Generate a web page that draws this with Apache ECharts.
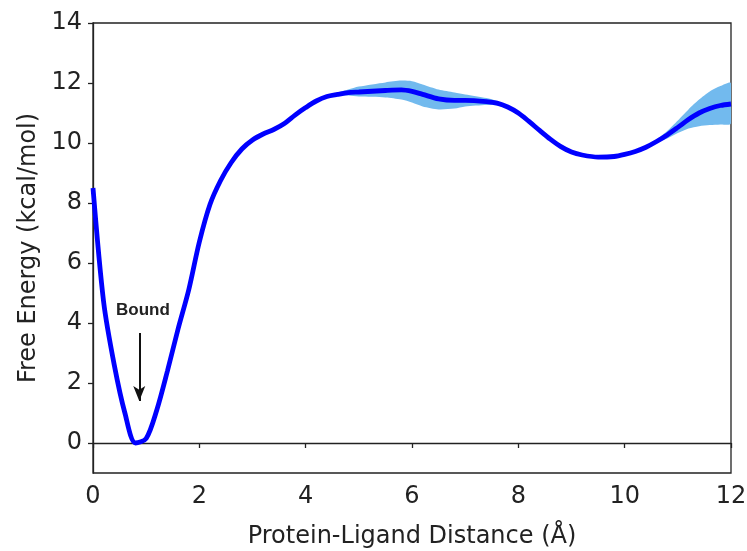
<!DOCTYPE html>
<html>
<head>
<meta charset="utf-8">
<script src="https://cdn.jsdelivr.net/npm/echarts@6/dist/echarts.min.js"></script>
<style>
html,body{margin:0;padding:0;background:#fff;}
#main{width:747px;height:551px;}
</style>
</head>
<body>
<div id="main"></div>
<script>
// distance (A) and free energy (kcal/mol)
var dist = [0,0.2,0.4,0.6,0.8,1.0,1.2,1.4,1.6,1.8,2.0,2.2,2.4,2.6,2.8,3.0,3.2,3.4,3.6,3.8,4.0,4.2,4.4,4.6,4.8,5.0,5.5,5.8,6.0,6.2,6.5,6.8,7.0,7.4,7.6,7.8,8.0,8.2,8.4,8.6,8.8,9.0,9.2,9.5,9.8,10.0,10.2,10.4,10.6,10.8,11.0,11.2,11.4,11.6,11.8,12.0];
var energy = [8.5,4.7,2.6,1.0,0.0,0.15,1.1,2.4,3.8,5.1,6.7,7.95,8.75,9.35,9.8,10.1,10.3,10.45,10.65,10.93,11.18,11.4,11.55,11.62,11.68,11.7,11.75,11.77,11.72,11.62,11.47,11.42,11.42,11.38,11.33,11.2,11.0,10.72,10.42,10.13,9.88,9.7,9.6,9.53,9.55,9.62,9.72,9.86,10.05,10.27,10.52,10.78,11.0,11.15,11.25,11.3];
// error band, lower and upper bounds
var bandLo = [8.5,4.7,2.6,1.0,0.0,0.15,1.1,2.4,3.8,5.1,6.7,7.95,8.75,9.35,9.8,10.1,10.3,10.45,10.65,10.93,11.18,11.4,11.55,11.57,11.58,11.55,11.52,11.45,11.35,11.22,11.12,11.15,11.22,11.27,11.25,11.14,10.95,10.69,10.4,10.11,9.86,9.68,9.58,9.51,9.53,9.6,9.7,9.84,10.0,10.15,10.33,10.48,10.56,10.6,10.62,10.65];
var bandHi = [8.5,4.7,2.6,1.0,0.0,0.15,1.1,2.4,3.8,5.1,6.7,7.95,8.75,9.35,9.8,10.1,10.3,10.45,10.65,10.93,11.18,11.4,11.55,11.68,11.78,11.88,12.02,12.08,12.06,11.95,11.78,11.68,11.62,11.5,11.4,11.24,11.05,10.75,10.44,10.15,9.9,9.72,9.62,9.55,9.57,9.64,9.74,9.88,10.12,10.4,10.75,11.12,11.45,11.72,11.9,12.0];
var yTicks = [0,2,4,6,8,10,12,14];

var lineData = [];
for (var i = 0; i < dist.length; i++) {
	lineData.push([dist[i], energy[i]]);
}

function renderBand(params, api) {
	var pts = [];
	for (var i = 0; i < dist.length; i++) pts.push(api.coord([dist[i], bandHi[i]]));
	for (var j = dist.length - 1; j >= 0; j--) pts.push(api.coord([dist[j], bandLo[j]]));
	return {
		type: 'polygon',
		shape: {points: pts, smooth: 0.25},
		style: {fill: '#72baee'},
		silent: true
	};
}

var font = 'DejaVu Sans';
var myChart = echarts.init(document.getElementById('main'));
var option = {
	animation: false,
	grid: {left: 93, top: 23, right: 16, bottom: 78, show: true, borderColor: '#222', borderWidth: 1.3,
		containLabel: false, outerBoundsMode: 'none'},
	xAxis: {
		type: 'value', min: 0, max: 12, interval: 2,
		name: 'Protein-Ligand Distance (\u00C5)', nameLocation: 'middle', nameGap: 52,
		nameTextStyle: {fontFamily: font, fontSize: 24, color: '#222'},
		axisLine: {lineStyle: {color: '#222', width: 1.3}},
		axisTick: {length: 5, lineStyle: {color: '#222', width: 1.3}},
		axisLabel: {fontFamily: font, fontSize: 24, color: '#222', margin: 12},
		splitLine: {show: false}
	},
	yAxis: {
		type: 'value', min: -1, max: 14,
		name: 'Free Energy (kcal/mol)', nameLocation: 'middle', nameGap: 52,
		nameTextStyle: {fontFamily: font, fontSize: 24, color: '#222'},
		axisLine: {show: true, lineStyle: {color: '#222', width: 1.3}},
		axisTick: {show: true, length: 5, lineStyle: {color: '#222', width: 1.3}, customValues: yTicks},
		axisLabel: {fontFamily: font, fontSize: 24, color: '#222', margin: 11, customValues: yTicks},
		splitLine: {show: false}
	},
	series: [
		{
			type: 'custom', renderItem: renderBand, data: [[0, 0]], clip: true, silent: true, z: 1
		},
		{
			type: 'line', data: lineData, symbol: 'none', smooth: 0.3, z: 2,
			lineStyle: {color: '#0000ff', width: 4.8},
			markLine: {
				silent: true,
				symbol: ['none', 'arrow'], symbolSize: [9, 15],
				lineStyle: {color: '#111', width: 2, type: 'solid'},
				label: {show: false},
				data: [[{coord: [0.87, 3.67]}, {coord: [0.87, 1.4]}]]
			},
			markPoint: {
				silent: true, symbol: 'circle', symbolSize: 0,
				label: {show: true, formatter: 'Bound', fontFamily: 'Liberation Sans', fontWeight: 'bold',
					fontSize: 17, color: '#222', position: 'inside'},
				data: [{coord: [0.94, 4.43]}]
			}
		}
	]
};
myChart.setOption(option);
</script>
</body>
</html>
